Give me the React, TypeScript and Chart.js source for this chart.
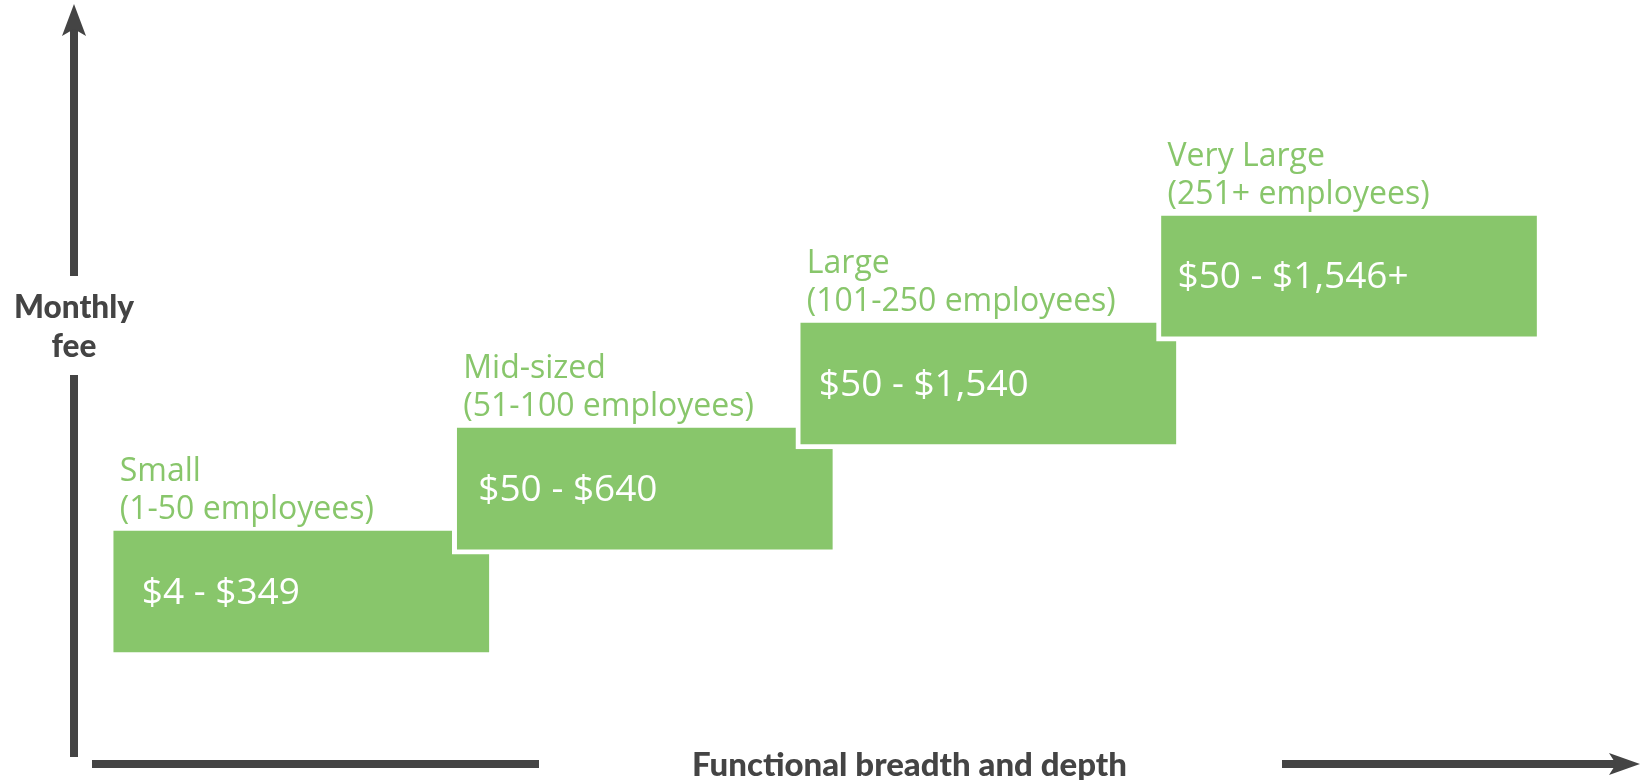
import { useEffect, useRef } from 'react';
import { Chart, registerables } from 'chart.js';

Chart.register(...registerables);

// ---------- data ----------
const categories = ['Small', 'Mid-sized', 'Large', 'Very Large'];
const employeeRanges = ['(1-50 employees)', '(51-100 employees)', '(101-250 employees)', '(251+ employees)'];
const feeLabels = ['$4 - $349', '$50 - $640', '$50 - $1,540', '$50 - $1,546+'];
// position along "Functional breadth and depth"
const breadthLevels = [0.65, 1.65, 2.65, 3.7];
// relative monthly fee level (low / high end of each block)
const feeLow = [4.73, 8.69, 12.73, 16.88];
const feeHigh = [9.77, 13.73, 17.77, 21.88];

// ---------- styles ----------
const GREEN = '#88C66B';
const DARK = '#444444';
const BORDER = 5;
const VALUE_INSET = [28, 21, 18, 16];

function fitFont(ctx: CanvasRenderingContext2D, text: string, weight: string, family: string, targetWidth: number) {
  ctx.font = `${weight} 30px ${family}`;
  const w = ctx.measureText(text).width;
  const size = (30 * targetWidth) / w;
  return `${weight} ${size.toFixed(2)}px ${family}`;
}

const labelsPlugin = {
  id: 'blockLabels',
  afterDatasetsDraw(chart: any) {
    const ctx: CanvasRenderingContext2D = chart.ctx;
    const meta = chart.getDatasetMeta(0);
    meta.data.forEach((el: any, i: number) => {
      const { x, y, base, width } = el.getProps(['x', 'y', 'base', 'width'], true);
      const top = Math.min(y, base) + BORDER;
      const bottom = Math.max(y, base) - BORDER;
      const left = x - width / 2 + BORDER;
      ctx.save();
      ctx.textAlign = 'left';
      ctx.textBaseline = 'alphabetic';
      ctx.fillStyle = '#ffffff';
      ctx.font = '37px "Open Sans"';
      ctx.fillText(feeLabels[i], left + VALUE_INSET[i], (top + bottom) / 2 + 12);
      ctx.fillStyle = GREEN;
      ctx.font = '32px "Open Sans"';
      ctx.fillText(categories[i], left + 6, top - 12 - 38);
      ctx.fillText(employeeRanges[i], left + 6, top - 12);
      ctx.restore();
    });
  },
};

const axesPlugin = {
  id: 'arrowAxes',
  afterDraw(chart: any) {
    const ctx: CanvasRenderingContext2D = chart.ctx;
    const H = chart.height;
    const W = chart.width;
    const ax = chart.chartArea.left - 8; // vertical shaft left
    const cx = ax + 4;
    const ay = H - 20; // horizontal shaft top
    const cy = ay + 4;
    ctx.save();
    ctx.fillStyle = DARK;
    // vertical arrow
    ctx.fillRect(ax, 27, 8, 276 - 27);
    ctx.fillRect(ax, 375, 8, H - 23 - 375);
    ctx.beginPath();
    ctx.moveTo(cx, 4);
    ctx.lineTo(cx + 12, 36);
    ctx.lineTo(cx, 29);
    ctx.lineTo(cx - 12, 36);
    ctx.closePath();
    ctx.fill();
    // horizontal arrow
    ctx.fillRect(92, ay, 539 - 92, 8);
    ctx.fillRect(1282, ay, W - 25 - 1282, 8);
    ctx.beginPath();
    ctx.moveTo(W - 1, cy);
    ctx.lineTo(W - 32, cy - 11);
    ctx.lineTo(W - 25, cy);
    ctx.lineTo(W - 32, cy + 11);
    ctx.closePath();
    ctx.fill();
    // titles
    ctx.textAlign = 'center';
    ctx.textBaseline = 'alphabetic';
    ctx.font = fitFont(ctx, 'Monthly', '900', 'Lato', 120);
    ctx.fillText('Monthly', cx, 318);
    ctx.fillText('fee', cx, 357);
    ctx.font = fitFont(ctx, 'Functional breadth and depth', '900', 'Lato', 435);
    ctx.fillText('Functional breadth and depth', 909.5, 776);
    ctx.restore();
  },
};

export default function App() {
  const ref = useRef<HTMLCanvasElement>(null);
  useEffect(() => {
    document.body.style.margin = '0';
    document.body.style.overflow = 'hidden';
    const chart = new Chart(ref.current as HTMLCanvasElement, {
      type: 'bar',
      data: {
        datasets: [
          {
            data: breadthLevels.map((x, i) => ({ x, y: [feeLow[i], feeHigh[i]] })) as any,
            backgroundColor: GREEN,
            borderColor: '#ffffff',
            borderWidth: BORDER,
            borderSkipped: false,
            barThickness: 385,
          },
        ],
      },
      options: {
        responsive: false,
        animation: false,
        events: [],
        layout: { padding: { left: 78, right: 0, top: 0, bottom: 0 } },
        scales: {
          x: { type: 'linear', min: 0, max: 4.55, offset: false, display: false },
          y: { type: 'linear', min: 0, max: 30, display: false },
        },
        plugins: {
          legend: { display: false },
          tooltip: { enabled: false },
          title: { display: false },
        },
      },
      plugins: [labelsPlugin, axesPlugin],
    });
    return () => chart.destroy();
  }, []);
  return <canvas ref={ref} width={1641} height={780} style={{ display: 'block' }} />;
}
